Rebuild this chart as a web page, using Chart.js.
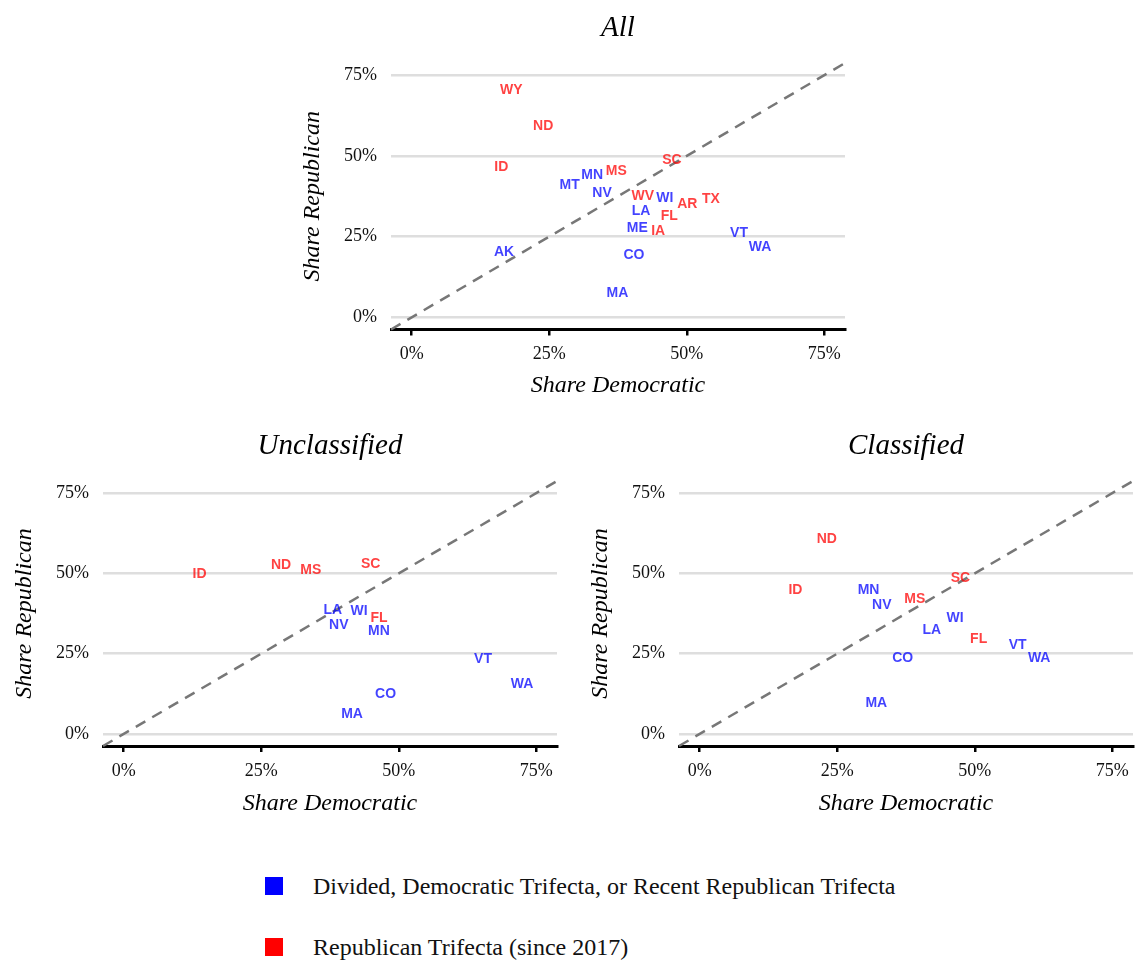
<!DOCTYPE html>
<html>
<head>
<meta charset="utf-8">
<script src="https://cdn.jsdelivr.net/npm/chart.js@4.4.1/dist/chart.umd.min.js"></script>
<style>
  html, body { margin: 0; padding: 0; background: #fff; }
  body { width: 1136px; height: 961px; position: relative; overflow: hidden; font-family: "Liberation Serif", "Times New Roman", serif; }
  .panel { position: absolute; width: 570px; height: 420px; }
  .leg { position: absolute; left: 265px; height: 24px; display: flex; align-items: center; }
  .sw { display: inline-block; width: 18px; height: 18px; }
  .lt { position: absolute; left: 48px; white-space: nowrap; font-size: 24px; line-height: 24px; color: #111; }
</style>
</head>
<body>
<div class="panel" style="left:290px; top:0px;"><canvas id="cAll" width="570" height="420"></canvas></div>
<div class="panel" style="left:2px; top:418px;"><canvas id="cUnc" width="570" height="420"></canvas></div>
<div class="panel" style="left:578px; top:418px;"><canvas id="cCls" width="570" height="420"></canvas></div>
<div class="leg" style="top:874px;"><span class="sw" style="background:#0000ff"></span><span class="lt" id="leg0"></span></div>
<div class="leg" style="top:935px;"><span class="sw" style="background:#ff0000"></span><span class="lt" id="leg1"></span></div>

<script>
// ---------------- DATA ----------------
const panelTitles = ['All', 'Unclassified', 'Classified'];
const xAxisTitle = 'Share Democratic';
const yAxisTitle = 'Share Republican';
const tickValues = [0, 25, 50, 75];
const legendLabels = ['Divided, Democratic Trifecta, or Recent Republican Trifecta', 'Republican Trifecta (since 2017)'];

// States with a Republican trifecta (since 2017)
const repTrifectaStates = ['WY', 'ND', 'ID', 'SC', 'MS', 'WV', 'AR', 'TX', 'FL', 'IA'];

// Panel "All" (values in percent)
const allStates = ['WY', 'ND', 'ID', 'SC', 'MS', 'MN', 'MT', 'NV', 'WV', 'WI', 'AR', 'TX', 'LA', 'FL', 'ME', 'IA', 'VT', 'WA', 'AK', 'CO', 'MA'];
const allDem    = [18.1, 23.9, 16.3, 47.3, 37.2, 32.8, 28.7, 34.6, 42.0, 46.0, 50.1, 54.4, 41.7, 46.8, 41.0, 44.8, 59.5, 63.3, 16.8, 40.4, 37.4];
const allRep    = [70.4, 59.1, 46.4, 48.6, 45.2, 43.9, 40.8, 38.6, 37.4, 36.9, 35.1, 36.7, 33.0, 31.2, 27.5, 26.7, 26.0, 21.8, 20.3, 19.4, 7.5];

// Panel "Unclassified"
const uncStates = ['ID', 'ND', 'MS', 'SC', 'LA', 'WI', 'FL', 'NV', 'MN', 'VT', 'WA', 'CO', 'MA'];
const uncDem    = [13.8, 28.6, 34.0, 44.9, 38.0, 42.8, 46.4, 39.1, 46.4, 65.3, 72.4, 47.6, 41.5];
const uncRep    = [49.9, 52.5, 51.1, 52.8, 38.7, 38.2, 36.2, 33.8, 32.1, 23.4, 15.6, 12.3, 6.3];

// Panel "Classified"
const clsStates = ['ND', 'ID', 'MN', 'NV', 'MS', 'SC', 'WI', 'LA', 'FL', 'VT', 'WA', 'CO', 'MA'];
const clsDem    = [23.1, 17.4, 30.7, 33.1, 39.1, 47.4, 46.4, 42.2, 50.7, 57.8, 61.7, 36.9, 32.1];
const clsRep    = [60.6, 44.8, 44.8, 40.2, 42.0, 48.6, 36.1, 32.2, 29.4, 27.8, 23.7, 23.7, 9.6];

// ---------------- STYLE ----------------
const SERIF = '"Liberation Serif", "Times New Roman", serif';
const SANS = '"Liberation Sans", Arial, sans-serif';
const BLUE_TXT = 'rgba(0,0,255,0.74)';
const RED_TXT = 'rgba(255,0,0,0.74)';
const AXIS_MIN = -3.75, AXIS_MAX = 78.75;

document.getElementById('leg0').textContent = legendLabels[0];
document.getElementById('leg1').textContent = legendLabels[1];

const stateLabelPlugin = {
  id: 'stateLabels',
  afterDatasetsDraw(chart) {
    const { ctx, scales: { x, y } } = chart;
    ctx.save();
    ctx.font = 'bold 14px ' + SANS;
    ctx.textAlign = 'center';
    ctx.textBaseline = 'middle';
    chart.data.datasets.forEach(ds => {
      if (!ds.stateLabels) return;
      ctx.fillStyle = ds.labelColor;
      ds.data.forEach((p, j) => {
        ctx.fillText(ds.stateLabels[j], x.getPixelForValue(p.x), y.getPixelForValue(p.y));
      });
    });
    ctx.restore();
  }
};

const diagonalPlugin = {
  id: 'diagonal',
  beforeDatasetsDraw(chart) {
    const { ctx, scales: { x, y } } = chart;
    const lo = Math.max(x.min, y.min), hi = Math.min(x.max, y.max);
    ctx.save();
    ctx.strokeStyle = '#777777';
    ctx.lineWidth = 2.5;
    ctx.setLineDash([11, 8]);
    ctx.beginPath();
    ctx.moveTo(x.getPixelForValue(lo), y.getPixelForValue(lo));
    ctx.lineTo(x.getPixelForValue(hi), y.getPixelForValue(hi));
    ctx.stroke();
    ctx.restore();
  }
};

const panelTitlePlugin = {
  id: 'panelTitle',
  afterDraw(chart, args, opts) {
    const { ctx, chartArea } = chart;
    ctx.save();
    ctx.font = 'italic 29px ' + SERIF;
    ctx.fillStyle = '#000';
    ctx.textAlign = 'center';
    ctx.textBaseline = 'middle';
    ctx.fillText(opts.text, (chartArea.left + chartArea.right) / 2, chartArea.top - 35);
    ctx.restore();
  }
};

function buildDatasets(states, dem, rep) {
  const blue = [], blueLab = [], red = [], redLab = [];
  states.forEach((s, i) => {
    if (repTrifectaStates.includes(s)) { red.push({ x: dem[i], y: rep[i] }); redLab.push(s); }
    else { blue.push({ x: dem[i], y: rep[i] }); blueLab.push(s); }
  });
  return [
    { label: legendLabels[0], data: blue, stateLabels: blueLab, labelColor: BLUE_TXT, pointRadius: 0, pointHoverRadius: 0 },
    { label: legendLabels[1], data: red, stateLabels: redLab, labelColor: RED_TXT, pointRadius: 0, pointHoverRadius: 0 }
  ];
}

function makeChart(id, title, states, dem, rep, chartBottom) {
  const H = 420;
  const tickFont = { family: SERIF, size: 18 };
  const titleFont = { family: SERIF, size: 24, style: 'italic' };
  return new Chart(document.getElementById(id), {
    type: 'scatter',
    data: { datasets: buildDatasets(states, dem, rep) },
    options: {
      responsive: false,
      animation: false,
      layout: { padding: { top: 63, right: 15, left: 0, bottom: 0 } },
      plugins: {
        legend: { display: false },
        tooltip: { enabled: false },
        panelTitle: { text: title }
      },
      scales: {
        x: {
          type: 'linear', min: AXIS_MIN, max: AXIS_MAX,
          afterBuildTicks(s) { s.ticks = tickValues.map(v => ({ value: v })); },
          afterFit(s) { s.height = H - chartBottom; },
          ticks: { callback: v => v + '%', color: '#111', font: tickFont, padding: 8, maxRotation: 0, autoSkip: false },
          grid: { drawOnChartArea: false, drawTicks: true, tickLength: 6, color: '#000', lineWidth: 2.5 },
          border: { display: true, color: '#000', width: 3 },
          title: { display: true, text: xAxisTitle, color: '#000', font: titleFont, padding: { top: 0, bottom: 20 } }
        },
        y: {
          type: 'linear', min: AXIS_MIN, max: AXIS_MAX,
          afterBuildTicks(s) { s.ticks = tickValues.map(v => ({ value: v })); },
          afterFit(s) { s.width = 101; },
          ticks: { callback: v => v + '%', color: '#111', font: tickFont, padding: 14 },
          grid: { color: '#dedede', lineWidth: 2.5, drawTicks: false },
          border: { display: false },
          title: { display: true, text: yAxisTitle, color: '#000', font: titleFont, padding: { top: 8.6, bottom: 0 } }
        }
      }
    },
    plugins: [diagonalPlugin, stateLabelPlugin, panelTitlePlugin]
  });
}

makeChart('cAll', panelTitles[0], allStates, allDem, allRep, 329.5);
makeChart('cUnc', panelTitles[1], uncStates, uncDem, uncRep, 328);
makeChart('cCls', panelTitles[2], clsStates, clsDem, clsRep, 328);
</script>
</body>
</html>
